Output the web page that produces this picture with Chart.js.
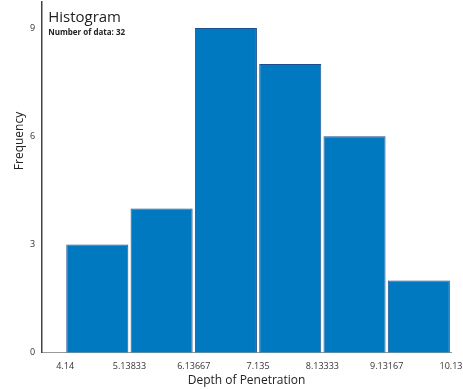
<!DOCTYPE html>
<html>
<head>
<meta charset="utf-8">
<script src="https://cdn.jsdelivr.net/npm/chart.js@4"></script>
<style>
  html, body { margin: 0; padding: 0; background: #fff; }
  #wrap { width: 463px; height: 389px; }
</style>
</head>
<body>
<div id="wrap"><canvas id="histChart" width="463" height="389"></canvas></div>
<script>
// bin edges and counts
const binEdges = [4.14, 5.13833, 6.13667, 7.135, 8.13333, 9.13167, 10.13];
const edgeLabels = ['4.14', '5.13833', '6.13667', '7.135', '8.13333', '9.13167', '10.13'];
const counts = [3, 4, 9, 8, 6, 2];
const yTicks = [0, 3, 6, 9];

const fontFam = "'Open Sans', 'Noto Sans', sans-serif";

const points = counts.map((c, i) => ({ x: (binEdges[i] + binEdges[i + 1]) / 2, y: c }));

// title text inside the plot area + y axis caption (sits above centre in the original)
const textPlugin = {
  id: 'extraText',
  afterDraw(chart) {
    const { ctx, chartArea } = chart;
    ctx.save();
    ctx.fillStyle = '#222';
    ctx.textBaseline = 'alphabetic';
    ctx.textAlign = 'left';
    ctx.font = `15px ${fontFam}`;
    ctx.fillText('Histogram', chartArea.left + 6, chartArea.top + 20);
    ctx.font = `bold 8px ${fontFam}`;
    ctx.fillText('Number of data: 32', chartArea.left + 6, chartArea.top + 33);

    ctx.translate(20, chartArea.top + 139);
    ctx.rotate(-Math.PI / 2);
    ctx.textAlign = 'center';
    ctx.textBaseline = 'middle';
    ctx.font = `12px ${fontFam}`;
    ctx.fillText('Frequency', 0, 0);
    ctx.restore();
  }
};

new Chart(document.getElementById('histChart'), {
  type: 'bar',
  data: {
    datasets: [{
      data: points,
      backgroundColor: '#0079c1',
      borderColor: '#1f4f8f',
      borderWidth: 1,
      barPercentage: 0.965,
      categoryPercentage: 1
    }]
  },
  options: {
    responsive: false,
    animation: false,
    layout: { padding: { left: 27, right: 12, top: 2, bottom: 1 } },
    plugins: { legend: { display: false }, tooltip: { enabled: false } },
    scales: {
      x: {
        type: 'linear',
        offset: false,
        min: 3.783,
        max: 10.13,
        grid: { display: false, drawTicks: true, tickLength: 4, tickColor: '#555' },
        border: { color: '#999', width: 1 },
        afterBuildTicks(scale) {
          scale.ticks = binEdges.map(v => ({ value: v }));
        },
        afterFit(scale) {
          scale.paddingLeft = 0;
          scale.paddingRight = 0;
          scale.height -= 3;
        },
        ticks: {
          autoSkip: false,
          maxRotation: 0,
          padding: 4,
          color: '#333',
          font: { family: fontFam, size: 9 },
          callback: (v, i) => edgeLabels[i]
        },
        title: {
          display: true,
          text: 'Depth of Penetration',
          color: '#222',
          padding: { top: 1, bottom: 0 },
          font: { family: fontFam, size: 12 }
        }
      },
      y: {
        min: 0,
        max: 9.72,
        grid: { display: false, drawTicks: true, tickLength: 4, tickColor: '#555' },
        border: { color: '#444', width: 1.5 },
        afterBuildTicks(scale) {
          scale.ticks = yTicks.map(v => ({ value: v }));
        },
        afterFit(scale) {
          scale.paddingTop = 0;
          scale.paddingBottom = 0;
        },
        ticks: {
          padding: 3,
          color: '#333',
          font: { family: fontFam, size: 9 }
        }
      }
    }
  },
  plugins: [textPlugin]
});
</script>
</body>
</html>
